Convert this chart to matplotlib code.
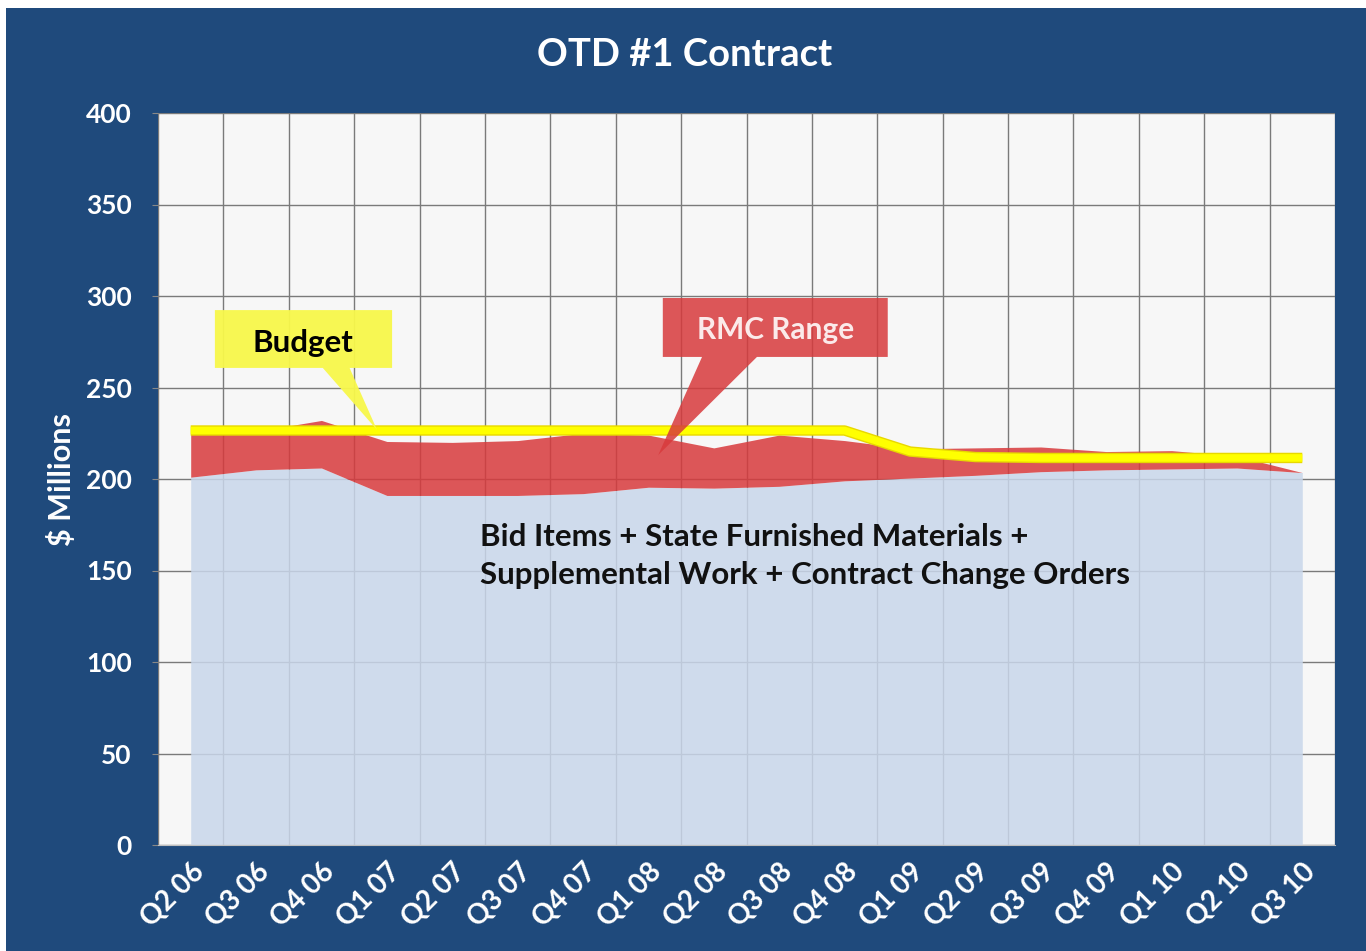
import matplotlib
matplotlib.use("Agg")
import matplotlib.pyplot as plt
from matplotlib.patches import Polygon, Rectangle
import numpy as np

quarters = ["Q2 06", "Q3 06", "Q4 06", "Q1 07", "Q2 07", "Q3 07", "Q4 07", "Q1 08", "Q2 08",
            "Q3 08", "Q4 08", "Q1 09", "Q2 09", "Q3 09", "Q4 09", "Q1 10", "Q2 10", "Q3 10"]
rmc_low = [201, 205, 206, 191, 191, 191, 192, 195.5, 195, 196, 199, 200.5, 202, 204, 205, 205.5, 206, 203.5]
rmc_high = [225, 226, 232, 220.5, 220, 221, 225, 224, 217, 224, 221, 216.5, 217, 217.5, 215, 215.5, 212.5, 203.5]
budget = [226.5, 226.5, 226.5, 226.5, 226.5, 226.5, 226.5, 226.5, 226.5, 226.5, 226.5, 215, 212, 211.5, 211.5, 211.5, 211.5, 211.5]
yticks = [0, 50, 100, 150, 200, 250, 300, 350, 400]

BG = "#1F4A7C"
FONT = "Lato"

fig = plt.figure(figsize=(13.66, 9.51), dpi=100, facecolor="white")
fig.patches.append(Rectangle((6/1366, 0), 1 - 6/1366, 1 - 8/951, transform=fig.transFigure,
                             facecolor=BG, edgecolor="none", zorder=-10))
ax = fig.add_axes([158/1366, 106/951, (1335-158)/1366, (845-113)/951])
ax.set_facecolor("#F7F7F7")

x = np.arange(len(quarters))
ax.fill_between(x, 0, rmc_low, color="#C9D7EB", alpha=0.85, lw=0, zorder=2)
ax.fill_between(x, rmc_low, rmc_high, color="#D83A3C", alpha=0.85, lw=0, zorder=2)
ax.plot(x, budget, color="#E8D800", lw=7.5, zorder=3, solid_capstyle="butt")
ax.plot(x, budget, color="#FFFF00", lw=5.5, zorder=3, solid_capstyle="butt")

ax.set_xlim(-0.5, len(quarters) - 0.5)
ax.set_ylim(0, 400)
ax.set_yticks(yticks)
ax.set_yticklabels([str(v) for v in yticks], color="white", fontsize=19,
                   fontweight="bold", family=FONT)
ax.set_xticks(x)
ax.set_xticklabels(quarters, rotation=45, ha="right", va="top", rotation_mode="anchor",
                   color="white", fontsize=20, fontweight="bold", family=FONT)
ax.set_xticks(np.arange(-0.5, len(quarters)), minor=True)
ax.tick_params(axis="x", which="major", length=0, pad=10)
ax.tick_params(axis="x", which="minor", length=0)
ax.tick_params(axis="y", length=4, color="#888888", pad=15)
ax.grid(axis="x", which="minor", color="#7A7A7A", lw=1, zorder=1)
ax.grid(axis="y", which="major", color="#7A7A7A", lw=1, zorder=1)
ax.grid(axis="x", which="major", visible=False)
ax.set_axisbelow(True)
for s in ["top", "right", "left"]:
    ax.spines[s].set_visible(False)
ax.spines["bottom"].set_color("#BFBFBF")

ax.set_ylabel("$ Millions", color="white", fontsize=22, fontweight="bold", family=FONT, labelpad=7)

fig.text(685/1366, 1 - 55/951, "OTD #1 Contract", color="white", fontsize=27.5,
         fontweight="bold", family=FONT, ha="center", va="center")

# Budget callout
ax.add_patch(Polygon([(0.37, 292.3), (3.08, 292.3), (3.08, 260.7), (2.43, 260.7), (2.85, 226.8),
                      (2.02, 260.7), (0.37, 260.7)], closed=True, facecolor="#F8F84A",
                     edgecolor="none", alpha=0.95, zorder=4))
ax.text(1.72, 274.5, "Budget", color="black", fontsize=22.5, fontweight="bold", family=FONT,
        ha="center", va="center", zorder=5)

# RMC callout
ax.add_patch(Polygon([(7.22, 298.9), (10.66, 298.9), (10.66, 266.7), (8.66, 266.7), (7.15, 213.1),
                      (7.82, 266.7), (7.22, 266.7)], closed=True, facecolor="#D83A3C",
                     edgecolor="none", alpha=0.85, zorder=4))
ax.text(8.95, 281.5, "RMC Range", color="#FBEAEA", fontsize=21.5, fontweight="bold", family=FONT,
        ha="center", va="center", zorder=5)

ax.text(4.42, 157.9, "Bid Items + State Furnished Materials +\nSupplemental Work + Contract Change Orders",
        color="#111111", fontsize=22.5, fontweight="bold", family=FONT, ha="left", va="center",
        linespacing=1.45, zorder=5)

fig.savefig("out.png", dpi=100, facecolor=fig.get_facecolor())
